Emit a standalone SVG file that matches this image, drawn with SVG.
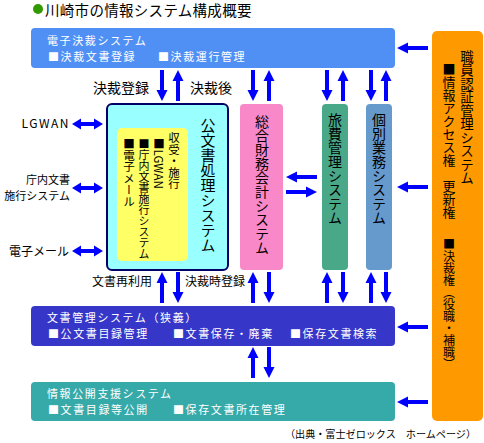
<svg xmlns="http://www.w3.org/2000/svg" width="484" height="443" viewBox="0 0 484 443">
<style>
text{font-family:"Noto Sans CJK JP","Noto Sans CJK SC",sans-serif;}
.w{fill:#fff;font-size:11px;letter-spacing:1.6px;}
.k{fill:#000;font-size:12px;}
.lbl{fill:#000;font-size:14px;}
.v{writing-mode:vertical-rl;fill:#000;}
.arr{fill:#0000FF;}
</style>
<defs>
<path id="ad" d="M-2,0 H2 V20 H5.5 L0,31 L-5.5,20 H-2 Z"/>
<path id="dbl" d="M0,0 L9,-5.5 V-2 H22 V-5.5 L31,0 L22,5.5 V2 H9 V5.5 Z"/>
</defs>
<rect width="484" height="443" fill="#fff"/>
<g id="title">
<circle cx="38" cy="9" r="5" fill="#339900"/>
<text x="45" y="16" font-size="14.5" letter-spacing="0.3" fill="#000">川崎市の情報システム構成概要</text>
</g>
<g id="denshi">
<rect x="31" y="28" width="364" height="40" rx="4" fill="#5090F5"/>
<text class="w" x="47" y="45">電子決裁システム</text>
<text class="w" x="48" y="61">■決裁文書登録</text>
<text class="w" x="158" y="61">■決裁運行管理</text>
</g>
<g id="shokuin">
<rect x="432" y="31" width="51" height="390" rx="5" fill="#FF9900"/>
<text class="v" x="467" y="50" font-size="13.5">職員認証管理システム</text>
<text class="v" x="449" y="63" font-size="13">■情報アクセス権　更新権</text>
<text class="v" x="449" y="238" font-size="12">■決裁権（役職・補職）</text>
</g>
<g id="kobunsho">
<rect x="107" y="104" width="121" height="166" rx="5" fill="#99FFFF" stroke="#000066" stroke-width="2"/>
<rect x="117" y="128" width="71" height="133" rx="5" fill="#FFFF66"/>
<text class="v" x="208" y="118" font-size="15">公文書処理システム</text>
<text class="v" x="174" y="132" font-size="11.5">収受・施行</text>
<text class="v" x="159" y="138" font-size="11.5">■LGWAN</text>
<text class="v" x="144" y="138" font-size="11">■庁内文書施行システム</text>
<text class="v" x="129" y="138" font-size="11.5">■電子メール</text>
</g>
<g id="zaimu">
<rect x="240" y="104" width="43" height="166" rx="4" fill="#F888C8"/>
<text class="v" x="262" y="115" font-size="14">総合財務会計システム</text>
</g>
<g id="ryohi">
<rect x="322" y="104" width="26" height="166" rx="4" fill="#48A888"/>
<text class="v" x="335" y="113" font-size="14">旅費管理システム</text>
</g>
<g id="kobetsu">
<rect x="366" y="104" width="26" height="166" rx="4" fill="#6699CC"/>
<text class="v" x="379" y="113" font-size="14">個別業務システム</text>
</g>
<g id="bunsho">
<rect x="31" y="306" width="364" height="40" rx="4" fill="#3636C8"/>
<text class="w" x="47" y="322">文書管理システム（狭義）</text>
<text class="w" x="48" y="338">■公文書目録管理</text>
<text class="w" x="173" y="338">■文書保存・廃棄</text>
<text class="w" x="290" y="338">■保存文書検索</text>
</g>
<g id="joho">
<rect x="31" y="382" width="364" height="39" rx="4" fill="#36A9A9"/>
<text class="w" x="47" y="398">情報公開支援システム</text>
<text class="w" x="48" y="414">■文書目録等公開</text>
<text class="w" x="173" y="414">■保存文書所在管理</text>
</g>
<g id="external">
<text class="k" x="70" y="128" text-anchor="end" letter-spacing="1.5">LGWAN</text>
<text class="k" style="font-size:11px" x="70" y="184" text-anchor="end">庁内文書</text>
<text class="k" style="font-size:11px" x="70" y="200" text-anchor="end">施行システム</text>
<text class="k" x="69" y="256" text-anchor="end">電子メール</text>
</g>
<g id="labels">
<text class="lbl" x="93" y="93">決裁登録</text>
<text class="lbl" x="190" y="93">決裁後</text>
<text class="k" x="152" y="286" text-anchor="end">文書再利用</text>
<text class="k" x="185" y="286">決裁時登録</text>
<text class="k" x="285" y="438" style="font-size:10.1px">（出典・富士ゼロックス　ホームページ）</text>
</g>
<g id="connectors" class="arr">
<use href="#ad" transform="translate(162,70)"/>
<use href="#ad" transform="translate(178,101) rotate(180)"/>
<use href="#ad" transform="translate(253,70)"/>
<use href="#ad" transform="translate(269,101) rotate(180)"/>
<use href="#ad" transform="translate(327,70)"/>
<use href="#ad" transform="translate(343,101) rotate(180)"/>
<use href="#ad" transform="translate(371,70)"/>
<use href="#ad" transform="translate(386,101) rotate(180)"/>
<use href="#ad" transform="translate(162,303) rotate(180)"/>
<use href="#ad" transform="translate(178,272)"/>
<use href="#ad" transform="translate(253,303) rotate(180)"/>
<use href="#ad" transform="translate(269,272)"/>
<use href="#ad" transform="translate(327,303) rotate(180)"/>
<use href="#ad" transform="translate(343,272)"/>
<use href="#ad" transform="translate(371,303) rotate(180)"/>
<use href="#ad" transform="translate(386,272)"/>
<use href="#ad" transform="translate(253,378) rotate(180)"/>
<use href="#ad" transform="translate(269,347)"/>
<use href="#ad" transform="translate(428,48) rotate(90)"/>
<use href="#ad" transform="translate(428,187) rotate(90)"/>
<use href="#ad" transform="translate(428,327) rotate(90)"/>
<use href="#ad" transform="translate(428,402) rotate(90)"/>
<use href="#ad" transform="translate(317,177) rotate(90)"/>
<use href="#ad" transform="translate(286,192) rotate(-90)"/>
<use href="#dbl" transform="translate(72,124)"/>
<use href="#dbl" transform="translate(72,188)"/>
<use href="#dbl" transform="translate(72,251)"/>
</g>
</svg>
